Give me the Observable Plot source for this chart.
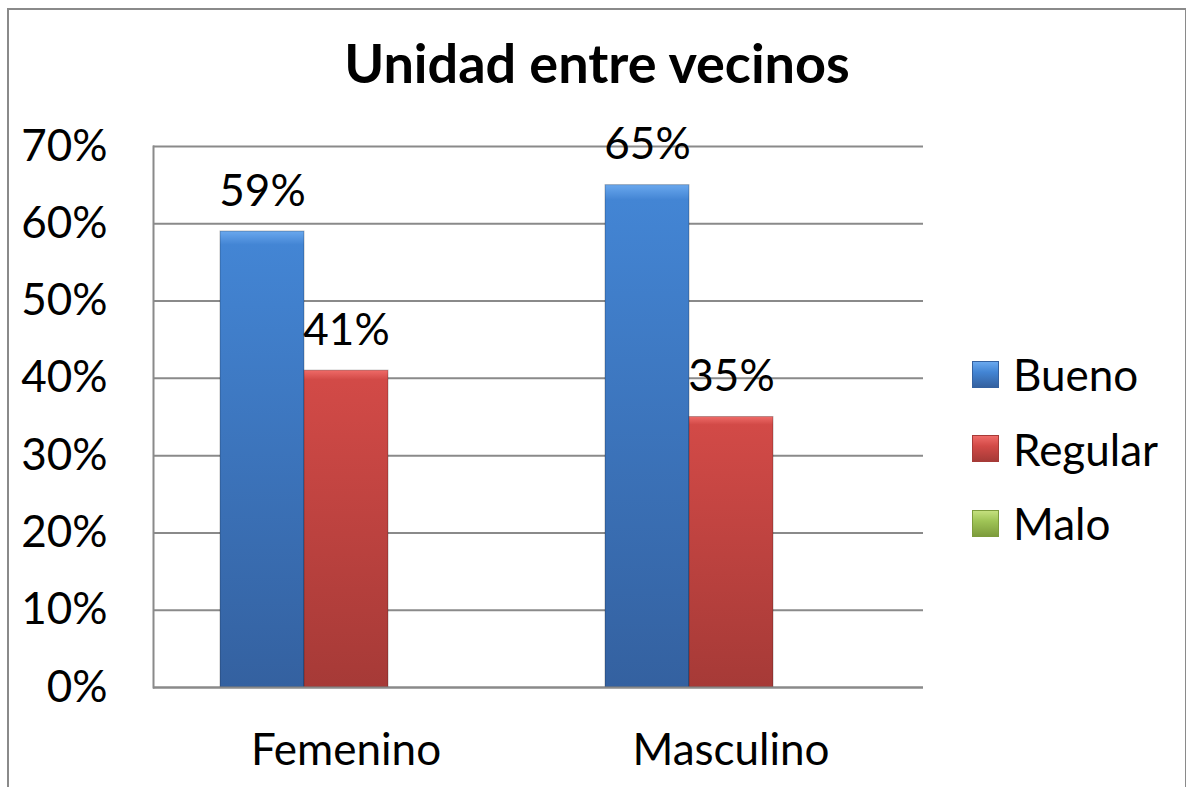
<!DOCTYPE html>
<html><head><meta charset="utf-8">
<script src="https://cdn.jsdelivr.net/npm/d3@7"></script>
<script src="https://cdn.jsdelivr.net/npm/@observablehq/plot@0.6"></script>
<style>
body{margin:0;background:#fff;font-family:Lato,"Open Sans",sans-serif;color:#000;}
#wrap{position:relative;width:1186px;height:787px;overflow:hidden;}
#frame{position:absolute;left:7px;top:8px;width:1180px;height:820px;border:2px solid #8a8a8a;box-sizing:border-box;}
#title{position:absolute;left:7px;top:36px;width:1180px;text-align:center;font-weight:bold;font-size:54px;line-height:54px;}
#chart{position:absolute;left:0;top:110px;}
#legend{position:absolute;left:972px;top:337px;}
.item{display:flex;align-items:center;height:74.5px;font-size:44px;}
.sw{width:27px;height:27px;margin-right:14px;box-sizing:border-box;}
</style></head>
<body><div id="wrap"><div id="frame"></div><div id="title">Unidad entre vecinos</div><div id="chart"></div><div id="legend"></div></div>
<script>
const categories = ["Femenino", "Masculino"];
const series = ["Bueno", "Regular", "Malo"];
const bueno = [0.59, 0.65];
const regular = [0.41, 0.35];
const malo = [0, 0];
const yTicks = [0, 0.1, 0.2, 0.3, 0.4, 0.5, 0.6, 0.7];
const seriesColors = {Bueno: ["#6aa8ee", "#4385d4", "#3461a0"], Regular: ["#ef6b68", "#d24a47", "#a63a37"], Malo: ["#c4e07e", "#9fc456", "#7d9c3c"]};

const values = {Bueno: bueno, Regular: regular, Malo: malo};
const data = [];
categories.forEach((c, i) => series.forEach(s => data.push({category: c, series: s, value: values[s][i]})));

const chart = Plot.plot({
  width: 1186, height: 677,
  marginLeft: 153, marginRight: 263, marginTop: 36, marginBottom: 100,
  style: {fontFamily: "Lato, 'Open Sans', sans-serif", fontSize: "44px", color: "#000", background: "transparent"},
  fx: {domain: categories, padding: 0, label: null, axis: "bottom", tickSize: 0, tickPadding: 46},
  x: {domain: series, paddingInner: 0, paddingOuter: 0.765, axis: null},
  y: {domain: [0, 0.7], ticks: yTicks, tickFormat: d3.format(".0%"), label: null, tickSize: 0, tickPadding: 46},
  color: {domain: series, range: series.map(s => `url(#grad-${s})`)},
  marks: [
    Plot.gridY(yTicks, {stroke: "#8a8a8a", strokeOpacity: 1, strokeWidth: 2}),
    Plot.frame({anchor: "left", facetAnchor: "left", stroke: "#8a8a8a", strokeWidth: 2}),
    Plot.barY(data, {fx: "category", x: "series", y: "value", fill: "series", stroke: d => d.value > 0 ? "#00000040" : "none", strokeWidth: 1}),
    Plot.ruleY([0], {stroke: "#8a8a8a", strokeWidth: 2}),
    Plot.text(data.filter(d => d.value > 0), {fx: "category", x: "series", y: "value", text: d => d3.format(".0%")(d.value), dy: -40, fontSize: 44, fill: "#000"})
  ]
});

const svg = d3.select(chart);
const defs = svg.insert("defs", ":first-child");
series.forEach(s => {
  const g = defs.append("linearGradient").attr("id", `grad-${s}`).attr("x1", 0).attr("y1", 0).attr("x2", 0).attr("y2", 1);
  g.append("stop").attr("offset", "0%").attr("stop-color", seriesColors[s][0]);
  g.append("stop").attr("offset", "3%").attr("stop-color", seriesColors[s][1]);
  g.append("stop").attr("offset", "100%").attr("stop-color", seriesColors[s][2]);
});
document.getElementById("chart").appendChild(chart);

const legend = d3.select("#legend");
series.forEach(s => {
  const it = legend.append("div").attr("class", "item");
  it.append("div").attr("class", "sw")
    .style("background", `linear-gradient(${seriesColors[s][0]}, ${seriesColors[s][1]} 40%, ${seriesColors[s][2]})`)
    .style("border", `1px solid ${seriesColors[s][2]}`);
  it.append("span").text(s);
});
</script></body></html>
